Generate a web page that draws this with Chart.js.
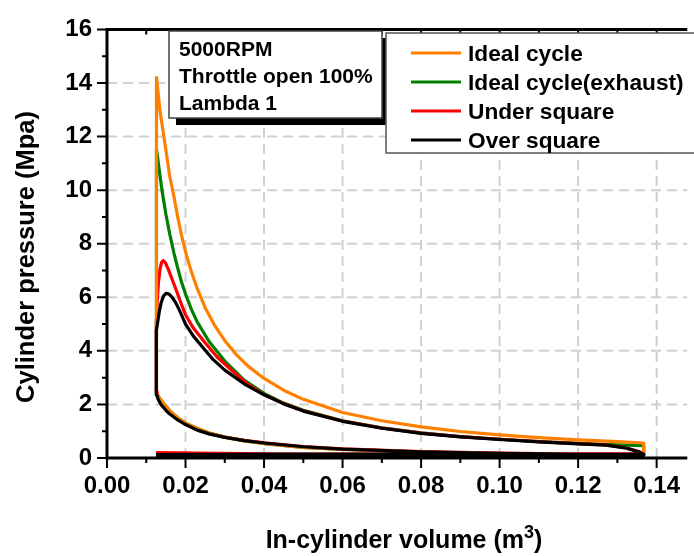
<!DOCTYPE html>
<html lang="en">
<head>
<meta charset="UTF-8">
<title>Cylinder pressure vs volume</title>
<script src="https://cdn.jsdelivr.net/npm/chart.js"></script>
<style>
    body { margin: 0; background: #fff; }
    #wrap { width: 694px; height: 556px; }
</style>
</head>
<body>
<div id="wrap"><canvas id="pv"></canvas></div>
<script>
    const FONT = "'Liberation Sans', Arial, sans-serif";

    const noteLines = ['5000RPM', 'Throttle open 100%', 'Lambda 1'];
    const seriesLabels = ['Ideal cycle', 'Ideal cycle(exhaust)', 'Under square', 'Over square'];
    const seriesColors = ['#ff8000', '#008000', '#ff0000', '#000000'];
    const xTitle = 'In-cylinder volume (m';
    const xTitleSup = '3';
    const yTitle = 'Cylinder pressure (Mpa)';

    // [volume m3, pressure MPa]
    const idealCompression = [
        [0.1367, 0.11], [0.12, 0.13], [0.10, 0.165], [0.08, 0.22], [0.06, 0.32], [0.05, 0.40],
        [0.04, 0.54], [0.035, 0.64], [0.03, 0.78], [0.026, 0.93], [0.023, 1.10], [0.02, 1.30],
        [0.018, 1.50], [0.016, 1.76], [0.0145, 2.02], [0.0135, 2.20], [0.0126, 2.42]
    ];
    const idealExpansion = [
        [0.0126, 14.2], [0.0135, 12.95], [0.0147, 11.8], [0.016, 10.5], [0.017, 9.8], [0.018, 9.0],
        [0.019, 8.3], [0.020, 7.7], [0.0215, 6.95], [0.023, 6.32], [0.025, 5.61], [0.0275, 4.93],
        [0.030, 4.38], [0.033, 3.85], [0.036, 3.42], [0.040, 2.97], [0.045, 2.53], [0.050, 2.19],
        [0.060, 1.70], [0.070, 1.39], [0.080, 1.16], [0.090, 0.99], [0.100, 0.86], [0.110, 0.76],
        [0.120, 0.68], [0.130, 0.61], [0.1367, 0.56]
    ];
    const exhaustExpansion = [
        [0.0126, 11.55], [0.0133, 10.75], [0.014, 10.0], [0.015, 9.1], [0.016, 8.35], [0.017, 7.68],
        [0.018, 7.1], [0.019, 6.56], [0.020, 6.12], [0.0215, 5.55], [0.023, 5.07], [0.026, 4.35],
        [0.030, 3.62], [0.035, 2.90], [0.040, 2.41], [0.045, 2.05], [0.050, 1.78], [0.060, 1.39],
        [0.070, 1.13], [0.080, 0.94], [0.090, 0.80], [0.100, 0.70], [0.110, 0.61], [0.120, 0.545],
        [0.130, 0.49], [0.1367, 0.46]
    ];
    const underSquare = [
        [0.0125, 0.10], [0.1367, 0.11],
        [0.1367, 0.13], [0.12, 0.15], [0.10, 0.18], [0.08, 0.24], [0.06, 0.34], [0.05, 0.43],
        [0.04, 0.57], [0.035, 0.66], [0.03, 0.78], [0.026, 0.91], [0.023, 1.05], [0.02, 1.26],
        [0.018, 1.44], [0.016, 1.67], [0.015, 1.82], [0.014, 2.0], [0.0135, 2.12], [0.013, 2.3],
        [0.0127, 2.5],
        [0.01258, 2.8], [0.01255, 3.4], [0.01255, 4.3], [0.0126, 5.1], [0.0128, 5.9], [0.0131, 6.55],
        [0.0135, 7.05], [0.0139, 7.3], [0.0143, 7.37],
        [0.0149, 7.28], [0.0156, 7.05], [0.0165, 6.7], [0.0175, 6.32], [0.019, 5.72], [0.020, 5.35],
        [0.022, 4.85], [0.025, 4.3], [0.028, 3.78], [0.032, 3.24], [0.036, 2.74], [0.040, 2.37],
        [0.045, 2.03], [0.050, 1.76], [0.060, 1.38], [0.070, 1.12], [0.080, 0.93], [0.090, 0.80],
        [0.100, 0.70], [0.110, 0.61], [0.120, 0.54], [0.127, 0.49], [0.132, 0.39], [0.1355, 0.24],
        [0.1367, 0.16],
        [0.045, 0.15], [0.0125, 0.20]
    ];
    const overSquare = [
        [0.0125, 0.09], [0.1367, 0.10],
        [0.1367, 0.12], [0.12, 0.14], [0.10, 0.17], [0.08, 0.23], [0.06, 0.33], [0.05, 0.42],
        [0.04, 0.56], [0.035, 0.65], [0.03, 0.77], [0.026, 0.90], [0.023, 1.04], [0.02, 1.25],
        [0.018, 1.42], [0.016, 1.64], [0.015, 1.78], [0.014, 1.95], [0.0135, 2.06], [0.013, 2.2],
        [0.0127, 2.35],
        [0.01255, 2.6], [0.0125, 3.1], [0.0125, 3.7], [0.01255, 4.3], [0.0127, 4.75], [0.013, 5.15],
        [0.0133, 5.45], [0.0138, 5.8], [0.0144, 6.05], [0.0151, 6.15],
        [0.0158, 6.12], [0.0166, 6.0], [0.0175, 5.8], [0.0185, 5.5], [0.020, 5.0], [0.022, 4.55],
        [0.024, 4.2], [0.027, 3.68], [0.030, 3.28], [0.035, 2.76], [0.040, 2.36], [0.045, 2.02],
        [0.050, 1.75], [0.060, 1.37], [0.070, 1.11], [0.080, 0.92], [0.090, 0.79], [0.100, 0.69],
        [0.110, 0.60], [0.120, 0.53], [0.127, 0.48], [0.132, 0.38], [0.1355, 0.22], [0.1367, 0.14],
        [0.045, 0.15], [0.0125, 0.13]
    ];

    // ideal cycles: intake line, compression, constant-volume heat addition, expansion, blowdown
    const idealCycle = [[0.0126, 0.10], [0.1367, 0.10]]
        .concat(idealCompression, idealExpansion, [[0.1367, 0.10]]);
    const exhaustCycle = [[0.0126, 0.10], [0.1367, 0.10]]
        .concat(idealCompression, exhaustExpansion, [[0.1367, 0.10]]);

    const series = [idealCycle, exhaustCycle, underSquare, overSquare];
    const drawOrder = [1, 3, 2, 0]; // black on top, green at the bottom

    const toPoints = arr => arr.map(([x, y]) => ({x: x, y: y}));

    const decor = {
        id: 'decor',
        beforeDatasetsDraw(chart) {
            // dashed grid at the major ticks
            const {ctx, chartArea: a, scales: {x, y}} = chart;
            ctx.save();
            ctx.strokeStyle = '#d0d0d0';
            ctx.lineWidth = 2;
            ctx.setLineDash([10, 6]);
            ctx.beginPath();
            x.ticks.forEach(t => {
                const px = x.getPixelForValue(t.value);
                ctx.moveTo(px, a.bottom);
                ctx.lineTo(px, a.top);
            });
            y.ticks.forEach(t => {
                const py = y.getPixelForValue(t.value);
                ctx.moveTo(a.left, py);
                ctx.lineTo(a.right, py);
            });
            ctx.stroke();
            ctx.restore();
        },
        afterDatasetsDraw(chart) {
            const {ctx, chartArea: a, scales: {x, y}} = chart;
            ctx.save();
            ctx.strokeStyle = '#000';
            ctx.lineWidth = 3;
            ctx.beginPath();
            ctx.moveTo(a.right, a.top);
            ctx.lineTo(a.left, a.top);
            ctx.lineTo(a.left, a.bottom);
            ctx.lineTo(a.right, a.bottom);
            ctx.stroke();

            ctx.lineWidth = 2;
            ctx.beginPath();
            for (let v = 0; v <= 16; v++) {
                const py = y.getPixelForValue(v);
                const len = v % 2 ? 5 : 10;
                ctx.moveTo(a.left - len, py);
                ctx.lineTo(a.left, py);
            }
            for (let i = 0; i <= 14; i++) {
                const px = x.getPixelForValue(i / 100);
                const len = i % 2 ? 5 : 10;
                ctx.moveTo(px, a.bottom);
                ctx.lineTo(px, a.bottom + len);
                ctx.moveTo(px, a.top);
                ctx.lineTo(px, a.top + 5);
            }
            ctx.stroke();
            ctx.restore();
        },
        afterDraw(chart) {
            const {ctx} = chart;
            ctx.save();
            ctx.fillStyle = '#000';

            // axis titles
            ctx.font = 'bold 25px ' + FONT;
            ctx.textBaseline = 'alphabetic';
            const w1 = ctx.measureText(xTitle).width;
            ctx.font = 'bold 18px ' + FONT;
            const w2 = ctx.measureText(xTitleSup).width;
            ctx.font = 'bold 25px ' + FONT;
            const w3 = ctx.measureText(')').width;
            const tx = 404 - (w1 + w2 + w3) / 2;
            ctx.textAlign = 'left';
            ctx.fillText(xTitle, tx, 548);
            ctx.font = 'bold 18px ' + FONT;
            ctx.fillText(xTitleSup, tx + w1, 538);
            ctx.font = 'bold 25px ' + FONT;
            ctx.fillText(')', tx + w1 + w2, 548);

            ctx.save();
            ctx.font = 'bold 25.5px ' + FONT;
            ctx.translate(27, 257);
            ctx.rotate(-Math.PI / 2);
            ctx.textAlign = 'center';
            ctx.textBaseline = 'middle';
            ctx.fillText(yTitle, 0, 0);
            ctx.restore();

            // note box with drop shadow
            ctx.fillStyle = '#000';
            ctx.fillRect(176, 38, 213, 87);
            ctx.fillStyle = '#fff';
            ctx.fillRect(169, 31, 213, 87);
            ctx.strokeStyle = '#444';
            ctx.lineWidth = 1.5;
            ctx.strokeRect(169, 31, 213, 87);
            ctx.fillStyle = '#000';
            ctx.font = 'bold 21px ' + FONT;
            ctx.textAlign = 'left';
            noteLines.forEach((t, i) => ctx.fillText(t, 179, 56 + i * 27));

            // legend box
            ctx.fillStyle = '#fff';
            ctx.fillRect(386, 33, 320, 120);
            ctx.strokeStyle = '#555';
            ctx.lineWidth = 1.5;
            ctx.strokeRect(386, 33, 320, 120);
            ctx.font = 'bold 22.7px ' + FONT;
            chart.data.datasets.forEach((ds, i) => {
                const cy = 53 + i * 29;
                ctx.strokeStyle = ds.borderColor;
                ctx.lineWidth = 3;
                ctx.beginPath();
                ctx.moveTo(411, cy);
                ctx.lineTo(461, cy);
                ctx.stroke();
                ctx.fillStyle = '#000';
                ctx.fillText(ds.label, 468, cy + 8);
            });
            ctx.restore();
        }
    };

    const elem = document.getElementById('pv').getContext('2d');
    const chart = new Chart(elem, {
        type: 'scatter',
        data: {
            datasets: series.map((s, i) => ({
                label: seriesLabels[i],
                data: toPoints(s),
                borderColor: seriesColors[i],
                backgroundColor: seriesColors[i],
                borderWidth: 3.2,
                borderJoinStyle: 'round',
                showLine: true,
                pointRadius: 0,
                tension: 0,
                order: drawOrder[i]
            }))
        },
        options: {
            responsive: true,
            maintainAspectRatio: false,
            animation: false,
            layout: {padding: {top: 21, right: 0, bottom: 0, left: 0}},
            plugins: {legend: {display: false}, tooltip: {enabled: false}},
            scales: {
                x: {
                    type: 'linear',
                    min: 0,
                    max: 0.1478,
                    afterFit: s => { s.height = 98; },
                    ticks: {
                        stepSize: 0.02,
                        includeBounds: false,
                        maxRotation: 0,
                        padding: 14,
                        color: '#000',
                        font: {family: FONT, size: 24, weight: 'bold'},
                        callback: v => v.toFixed(2)
                    },
                    grid: {display: false, drawTicks: false},
                    border: {display: false}
                },
                y: {
                    type: 'linear',
                    min: 0,
                    max: 16,
                    afterFit: s => { s.width = 107; },
                    ticks: {
                        stepSize: 2,
                        padding: 15,
                        color: '#000',
                        font: {family: FONT, size: 24, weight: 'bold'}
                    },
                    grid: {display: false, drawTicks: false},
                    border: {display: false}
                }
            }
        },
        plugins: [decor]
    });
</script>
</body>
</html>
